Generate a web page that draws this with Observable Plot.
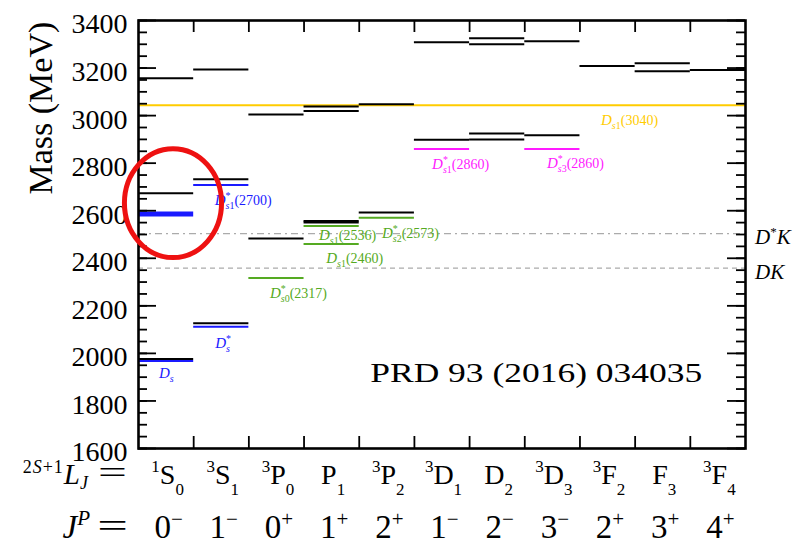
<!DOCTYPE html>
<html><head><meta charset="utf-8">
<script src="https://cdn.jsdelivr.net/npm/d3@7"></script>
<script src="https://cdn.jsdelivr.net/npm/@observablehq/plot@0.6"></script>
<style>body{margin:0;background:#fff;} svg{display:block}</style>
</head><body><div id="chart"></div>
<script>
// ---- data ----
const waveSup = ["1","3","3","","3","3","","3","3","","3"];
const waveL   = ["S","S","P","P","P","D","D","D","F","F","F"];
const waveJ   = ["0","1","0","1","2","1","2","3","2","3","4"];
const jpJ     = ["0","1","0","1","2","1","2","3","2","3","4"];
const jpP     = ["−","−","+","+","+","−","−","−","+","+","+"];
const yTicks  = [1600,1800,2000,2200,2400,2600,2800,3000,3200,3400];
const minorTicks = d3.range(1600, 3401, 50);
const colEdges = [1,2,3,4,5,6,7,8,9,10];

// quark-model predictions (black)
const theory = [
  {col:0, mass:3157},{col:0, mass:2674},{col:0, mass:1976},
  {col:1, mass:3194},{col:1, mass:2732},{col:1, mass:2127},
  {col:2, mass:3005},{col:2, mass:2483},
  {col:3, mass:3038},{col:3, mass:3019},{col:3, mass:2557},{col:3, mass:2550},
  {col:4, mass:3048},{col:4, mass:2592},
  {col:5, mass:3309},{col:5, mass:2899},
  {col:6, mass:3325},{col:6, mass:3300},{col:6, mass:2925},{col:6, mass:2900},
  {col:7, mass:3313},{col:7, mass:2917},
  {col:8, mass:3209},
  {col:9, mass:3220},{col:9, mass:3187},
  {col:10, mass:3192}
];
// experimental states
const expBlue    = [{col:0, mass:1968},{col:1, mass:2112},{col:1, mass:2708}];
const expBlueNew = [{col:0, mass:2586}];
const expGreen   = [{col:2, mass:2317},{col:3, mass:2536},{col:3, mass:2460},{col:4, mass:2570}];
const expMagenta = [{col:5, mass:2860},{col:7, mass:2860}];
const expYellow  = [3044];
const thrDK  = [2359];
const thrDsK = [2504];

// state labels
const stateLabels = [
  {sup:"",  subL:"s", subN:"",  num:"",       col:0.38, mass:1917, color:"blue"},
  {sup:"*", subL:"s", subN:"",  num:"",       col:1.40, mass:2043, color:"blue"},
  {sup:"*", subL:"s", subN:"1", num:"(2700)", col:1.39, mass:2643, color:"blue"},
  {sup:"*", subL:"s", subN:"0", num:"(2317)", col:2.39, mass:2252, color:"green"},
  {sup:"",  subL:"s", subN:"1", num:"(2460)", col:3.41, mass:2399, color:"green"},
  {sup:"",  subL:"s", subN:"1", num:"(2536)", col:3.28, mass:2496, color:"green"},
  {sup:"*", subL:"s", subN:"2", num:"(2573)", col:4.42, mass:2504, color:"green"},
  {sup:"*", subL:"s", subN:"1", num:"(2860)", col:5.33, mass:2794, color:"magenta"},
  {sup:"*", subL:"s", subN:"3", num:"(2860)", col:7.41, mass:2798, color:"magenta"},
  {sup:"",  subL:"s", subN:"1", num:"(3040)", col:8.39, mass:2978, color:"yellow"}
];
const thrLabels = [{base:"D", sup:"*", tail:"K", mass:2504}, {base:"D", sup:"", tail:"K", mass:2359}];
const reference = [{text:"PRD 93 (2016) 034035", col:4.2, mass:1918}];
const yTitle = "Mass (MeV)";
const highlight = {col:0.634, mass:2630, dcol:0.88, dmass:229};

const colors = {blue:"#1a1aff", green:"#55aa22", magenta:"#ff1aff", yellow:"#ffcc00", gray:"#ababab"};

// ---- plot ----
const W = 800, H = 544, mL = 138, mR = 55, mT = 20, mB = 96;
const fw = W - mL - mR;
const font = "Liberation Serif, Times New Roman, serif";

const plot = Plot.plot({
  width: W, height: H,
  marginLeft: mL, marginRight: mR, marginTop: mT, marginBottom: mB,
  style: {fontFamily: font, background: "white", overflow: "visible"},
  x: {domain: [0, 11], axis: null},
  y: {domain: [1600, 3400], axis: null},
  marks: [
    Plot.ruleY(thrDK,  {y: d => d, x1: 0, x2: 11, stroke: colors.gray, strokeWidth: 1.2, strokeDasharray: "5,4"}),
    Plot.ruleY(thrDsK, {y: d => d, x1: 0, x2: 11, stroke: colors.gray, strokeWidth: 1.2, strokeDasharray: "7,4,2,4"}),
    Plot.ruleY(expYellow, {y: d => d, x1: 0, x2: 11, stroke: colors.yellow, strokeWidth: 2}),
    Plot.ruleY(theory, {y: "mass", x1: "col", x2: d => d.col + 1, stroke: "black", strokeWidth: 2}),
    Plot.ruleY(expBlue, {y: "mass", x1: "col", x2: d => d.col + 1, stroke: colors.blue, strokeWidth: 2}),
    Plot.ruleY(expBlueNew, {y: "mass", x1: "col", x2: d => d.col + 1, stroke: colors.blue, strokeWidth: 5}),
    Plot.ruleY(expGreen, {y: "mass", x1: "col", x2: d => d.col + 1, stroke: colors.green, strokeWidth: 2}),
    Plot.ruleY(expMagenta, {y: "mass", x1: "col", x2: d => d.col + 1, stroke: colors.magenta, strokeWidth: 2}),
    // axis ticks (inside frame)
    Plot.ruleY(minorTicks, {y: d => d, x1: 0, x2: 11, insetRight: fw - 9, stroke: "black", strokeWidth: 1.8}),
    Plot.ruleY(yTicks, {y: d => d, x1: 0, x2: 11, insetRight: fw - 18, stroke: "black", strokeWidth: 1.8}),
    Plot.ruleY(minorTicks, {y: d => d, x1: 0, x2: 11, insetLeft: fw - 9, stroke: "black", strokeWidth: 1.8}),
    Plot.ruleY(yTicks, {y: d => d, x1: 0, x2: 11, insetLeft: fw - 18, stroke: "black", strokeWidth: 1.8}),
    Plot.ruleX(colEdges, {x: d => d, insetBottom: (H - mT - mB) - 12, stroke: "black", strokeWidth: 1.8}),
    Plot.ruleX(colEdges, {x: d => d, insetTop: (H - mT - mB) - 12, stroke: "black", strokeWidth: 1.8}),
    Plot.frame({stroke: "black", strokeWidth: 2.6}),
    Plot.text(yTicks, {x: 0, y: d => d, text: d => String(d), textAnchor: "end", dx: -11, dy: 4, fontSize: 28, fill: "black"}),
    Plot.text(reference, {x: "col", y: "mass", text: "text", textAnchor: "start", fontSize: 28, fill: "black"})
  ]
});
document.getElementById("chart").appendChild(plot);

// ---- rich text & annotation via the plot's scales ----
const xs = plot.scale("x"), ys = plot.scale("y");
const svg = d3.select(plot);
// stretch reference text to its width in the original
svg.selectAll("text").filter(function() { return this.textContent === reference[0].text; })
  .attr("textLength", 332).attr("lengthAdjust", "spacingAndGlyphs");

const g = svg.append("g").attr("font-family", font);

function rich(x, y, parts, anchor, fill) {
  const t = g.append("text").attr("x", x).attr("y", y).attr("text-anchor", anchor).attr("fill", fill);
  let cur = 0;
  for (const p of parts) {
    if (!p.t) continue;
    const ts = t.append("tspan").text(p.t).attr("font-size", p.s);
    const want = p.dy || 0;
    if (want - cur) ts.attr("dy", want - cur);
    cur = want;
    if (p.dx) ts.attr("dx", p.dx);
    if (p.i) ts.attr("font-style", "italic");
    if (p.ls) ts.attr("letter-spacing", p.ls);
  }
  return t;
}
// wide, thin "=" sign as in LaTeX math
function equals(xCenter, y, size) {
  g.append("text").attr("transform", `translate(${xCenter},${y}) scale(1.6,1)`)
    .attr("text-anchor", "middle").attr("font-size", size).attr("fill", "black").text("=");
}

// y-axis title
g.append("text")
  .attr("transform", `translate(${xs.apply(0) - 98},${ys.apply(3000) - 7}) rotate(-90)`)
  .attr("text-anchor", "middle").attr("dy", "0.35em")
  .attr("font-size", 34).attr("fill", "black").text(yTitle);

// state labels
for (const d of stateLabels) {
  const x = xs.apply(d.col), y = ys.apply(d.mass) + 5;
  rich(x, y, [
    {t: "D", s: 15, i: true},
    {t: d.sup, s: 10, dy: -6},
    {t: d.subL, s: 10, i: true, dy: 4, dx: d.sup ? -5 : 0},
    {t: d.subN, s: 10, dy: 4},
    {t: d.num, s: 14}
  ], "start", colors[d.color]);
}

// threshold labels
for (const d of thrLabels) {
  const x = xs.apply(11) + 10, y = ys.apply(d.mass) + 11;
  rich(x, y, [
    {t: d.base, s: 21, i: true},
    {t: d.sup, s: 13, dy: -8},
    {t: d.tail, s: 21, i: true}
  ], "start", "black");
}

// bottom rows
const row1 = ys.apply(1600) + 36, row2 = ys.apply(1600) + 90;
const eqRight = xs.apply(0) - 10;
rich(eqRight - 40, row1, [
  {t: "2", s: 18, dy: -11, ls: 1}, {t: "S", s: 18, i: true, dy: -11, ls: 1}, {t: "+1", s: 18, dy: -11, ls: 1},
  {t: "L", s: 29, i: true}, {t: "J", s: 18, i: true, dy: 5}
], "end", "black");
equals(eqRight - 15.5, row1 - 1, 32);
rich(eqRight - 38, row2, [
  {t: "J", s: 33, i: true}, {t: "P", s: 21, i: true, dy: -13}
], "end", "black");
equals(eqRight - 15.5, row2 - 1, 34);
for (let i = 0; i < waveL.length; i++) {
  const cx = xs.apply(i + 0.5) + 2;
  rich(cx, row1, [
    {t: waveSup[i], s: 17, dy: -12},
    {t: waveL[i], s: 28},
    {t: waveJ[i], s: 17, dy: 11}
  ], "middle", "black");
  rich(cx + 1, row2, [
    {t: jpJ[i], s: 33},
    {t: jpP[i], s: 21, dy: -12}
  ], "middle", "black");
}

// highlight ellipse
const ecx = xs.apply(highlight.col), ecy = ys.apply(highlight.mass);
svg.append("ellipse")
  .attr("cx", ecx).attr("cy", ecy)
  .attr("rx", xs.apply(highlight.col + highlight.dcol) - ecx)
  .attr("ry", ys.apply(highlight.mass - highlight.dmass) - ecy)
  .attr("fill", "none").attr("stroke", "#ee1111").attr("stroke-width", 5);
</script>
</body></html>
